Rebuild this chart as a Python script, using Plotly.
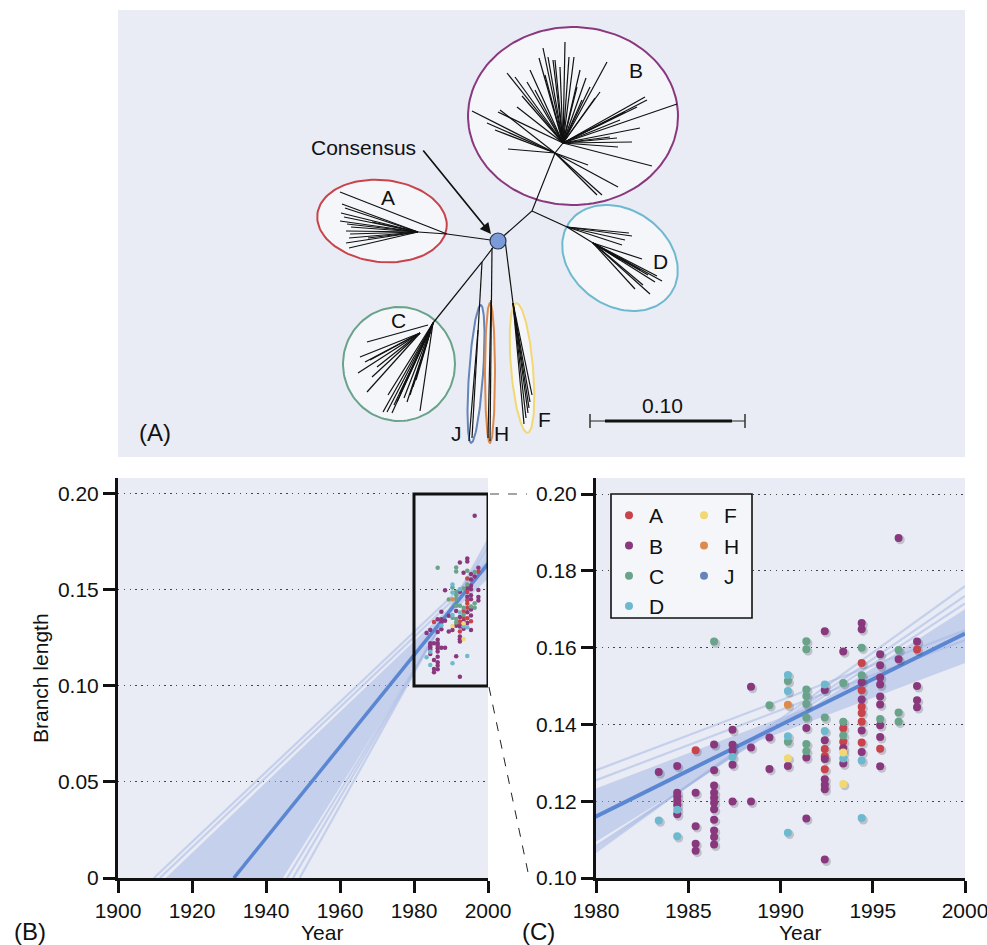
import numpy as np
import plotly.graph_objects as go

W, H = 987, 945
FONT = "Liberation Sans, Arial, Helvetica, sans-serif"
FS = 21

# ---------------- data: root-to-tip branch length vs sampling year ----------------
groups = ["A", "B", "C", "D", "F", "H", "J"]
group_colors = ["#c8434b", "#8a387e", "#69a38a", "#6dbad0", "#f1d872", "#de8a4c", "#6584b8"]

A_years = [1985.4, 1992.4, 1992.4, 1992.4, 1993.4, 1993.4, 1994.4, 1994.4, 1994.4,
           1994.4, 1994.4, 1994.4, 1995.4, 1997.4]
A_lengths = [0.1333, 0.1336, 0.1317, 0.1283, 0.1390, 0.1355, 0.1560, 0.1489, 0.1446,
             0.1430, 0.1407, 0.1353, 0.1337, 0.1595]

B_years = [1983.4,
           1984.4, 1984.4, 1984.4, 1984.4, 1984.4, 1984.4,
           1985.4, 1985.4, 1985.4, 1985.4,
           1986.4, 1986.4, 1986.4, 1986.4, 1986.4, 1986.4, 1986.4, 1986.4, 1986.4, 1986.4, 1986.4,
           1987.4, 1987.4, 1987.4, 1987.4, 1987.4,
           1988.4, 1988.4, 1988.4,
           1989.4, 1989.4,
           1990.4,
           1991.4, 1991.4, 1991.4,
           1992.4, 1992.4, 1992.4, 1992.4, 1992.4, 1992.4, 1992.4, 1992.4,
           1993.4, 1993.4, 1993.4,
           1994.4, 1994.4, 1994.4, 1994.4, 1994.4, 1994.4,
           1995.4, 1995.4, 1995.4, 1995.4, 1995.4, 1995.4, 1995.4, 1995.4, 1995.4,
           1996.4, 1996.4,
           1997.4, 1997.4, 1997.4, 1997.4]
B_lengths = [0.1276,
             0.1292, 0.1222, 0.1212, 0.1201, 0.1190, 0.1166,
             0.1222, 0.1135, 0.1089, 0.1071,
             0.1348, 0.1281, 0.1241, 0.1222, 0.1209, 0.1196, 0.1179, 0.1152, 0.1124, 0.1107, 0.1087,
             0.1386, 0.1347, 0.1332, 0.1295, 0.1199,
             0.1498, 0.1340, 0.1199,
             0.1366, 0.1284,
             0.1292,
             0.1391, 0.1314, 0.1155,
             0.1643, 0.1490, 0.1359, 0.1310, 0.1257, 0.1243, 0.1231, 0.1048,
             0.1590, 0.1338, 0.1298,
             0.1664, 0.1648, 0.1510, 0.1465, 0.1384, 0.1328,
             0.1583, 0.1554, 0.1522, 0.1504, 0.1473, 0.1452, 0.1398, 0.1367, 0.1291,
             0.1886, 0.1570,
             0.1616, 0.1500, 0.1463, 0.1445]

C_years = [1986.4, 1989.4, 1990.4, 1990.4,
           1991.4, 1991.4, 1991.4, 1991.4, 1991.4, 1991.4, 1991.4, 1991.4,
           1992.4, 1993.4, 1993.4, 1993.4, 1994.4, 1994.4, 1995.4, 1996.4, 1996.4, 1996.4]
C_lengths = [0.1616, 0.1450, 0.1513, 0.1355,
             0.1617, 0.1596, 0.1491, 0.1474, 0.1453, 0.1418, 0.1349, 0.1330,
             0.1418, 0.1508, 0.1407, 0.1371, 0.1600, 0.1528, 0.1414, 0.1594, 0.1431, 0.1407]

D_years = [1983.4, 1984.4, 1984.4, 1987.4, 1990.4, 1990.4, 1990.4, 1990.4,
           1992.4, 1992.4, 1993.4, 1994.4, 1994.4]
D_lengths = [0.1150, 0.1178, 0.1109, 0.1315, 0.1529, 0.1487, 0.1369, 0.1118,
             0.1504, 0.1383, 0.1311, 0.1306, 0.1156]

F_years = [1990.4, 1993.4, 1993.4]
F_lengths = [0.1312, 0.1327, 0.1245]
H_years = [1990.4]
H_lengths = [0.1451]
J_years = [None]      # no J sample visible in the plotted window
J_lengths = [None]

group_years = [A_years, B_years, C_years, D_years, F_years, H_years, J_years]
group_lengths = [A_lengths, B_lengths, C_lengths, D_lengths, F_lengths, H_lengths, J_lengths]

# regression (best fit): root year where branch length = 0, and value at 2000
fit_root_year = 1931.3
fit_end_value = 0.1637
# posterior sample lines: root year and value at 2000
fan_root_years = [1909.7, 1911.3, 1912.9, 1914.0, 1916.0, 1944.6, 1945.7, 1947.3, 1949.1]
fan_end_values = [0.1645, 0.1620, 0.1600, 0.1560, 0.1570, 0.1700, 0.1715, 0.1735, 0.1760]
fan_core = [2, 3, 4, 5]          # lines forming the dense band
fan_edges = [0, 1, 6, 7, 8]      # individual outer lines

# tick labels
B_xticks = [1900, 1920, 1940, 1960, 1980, 2000]
B_yticks = [0, 0.05, 0.10, 0.15, 0.20]
B_yticktext = ["0", "0.05", "0.10", "0.15", "0.20"]
C_xticks = [1980, 1985, 1990, 1995, 2000]
C_yticks = [0.10, 0.12, 0.14, 0.16, 0.18, 0.20]
C_yticktext = ["0.10", "0.12", "0.14", "0.16", "0.18", "0.20"]

# ---------------- tree (panel A), in panel pixel coordinates ----------------
consensus_xy = (498, 241)
tree_stems = {
    "A": [(498, 241), (447, 234), (418, 232)],
    "B": [(498, 241), (532, 211), (555, 153), (563, 143)],
    "D": [(532, 211), (567, 227), (593, 243)],
    "C": [(498, 241), (482, 262), (433, 323)],
    "J": [(482, 262), (472, 438)],
    "H": [(492, 248), (490, 441)],
    "F": [(505, 240), (513, 303)],
}
tree_fans = [
    ((418, 232), [(342, 204), (345, 208), (341, 213), (344, 217), (340, 221), (347, 224), (351, 227),
                  (346, 231), (350, 234), (349, 238), (346, 243), (349, 248), (368, 238), (372, 222)]),
    ((447, 234), [(340, 192)]),
    ((563, 143), [(543, 48), (539, 58), (548, 57), (553, 60), (555, 60), (565, 42), (569, 57), (574, 57),
                  (607, 62), (590, 87), (595, 98), (645, 97), (647, 100), (677, 104), (632, 142),
                  (617, 138), (618, 147), (652, 166), (507, 73), (515, 77), (527, 82), (535, 90),
                  (498, 112), (517, 107), (560, 67), (577, 87), (582, 100), (620, 120), (637, 107),
                  (610, 137), (580, 70), (586, 78), (600, 92), (625, 112), (640, 128), (530, 70),
                  (522, 96), (545, 75)]),
    ((555, 153), [(472, 111), (495, 130), (508, 149), (618, 187), (602, 195), (597, 195), (588, 165),
                  (487, 123), (500, 110)]),
    ((567, 227), [(632, 236), (625, 240), (622, 245), (629, 233)]),
    ((593, 243), [(642, 259), (662, 281), (655, 282), (650, 294), (635, 289), (643, 285), (620, 260),
                  (648, 275), (640, 270), (657, 276)]),
    ((433, 323), [(383, 412), (387, 412), (392, 413), (388, 395), (397, 402), (407, 402), (420, 411),
                  (413, 387), (400, 393), (404, 398), (410, 395), (416, 380), (394, 405)]),
    ((420, 333), [(360, 357), (365, 362), (358, 373), (372, 377), (367, 392), (377, 367), (370, 360)]),
    ((428, 325), [(367, 342)]),
    ((478, 330), [(469, 441)]),
    ((491, 300), [(488, 438)]),
    ((513, 303), [(530, 402), (528, 413), (524, 424), (532, 395), (526, 418), (529, 408)]),
]
# clade ellipses: name, cx, cy, rx, ry, rotation(deg), colour
clade_ellipses = [
    ("A", 382, 221, 65, 41, 6, "#c8434b"),
    ("B", 573, 116, 105, 89, 0, "#8a387e"),
    ("C", 399, 364, 56, 57, 0, "#69a38a"),
    ("D", 620, 258, 62, 48, 35, "#6dbad0"),
    ("J", 476, 374, 7, 69, 4, "#6584b8"),
    ("H", 490, 373, 5, 70, 0, "#de8a4c"),
    ("F", 522, 368, 11, 65, -5, "#f1d872"),
]
clade_labels = [("A", 388, 197), ("B", 636, 70), ("C", 398, 320), ("D", 660, 261),
                ("F", 544, 419), ("H", 501, 433), ("J", 456, 433)]

# ---------------- helpers ----------------
def px(x):
    return x / W


def py(y):
    return 1 - y / H


def ellipse(cx, cy, rx, ry, ang):
    t = np.linspace(0, 2 * np.pi, 120)
    a = np.deg2rad(ang)
    xs = cx + rx * np.cos(t) * np.cos(a) - ry * np.sin(t) * np.sin(a)
    ys = cy + rx * np.cos(t) * np.sin(a) + ry * np.sin(t) * np.cos(a)
    return xs, ys


def fan_line(root, endv):
    return [root, 2000], [0, endv]


fig = go.Figure()

# ---------------- panel A ----------------
for name, cx, cy, rx, ry, ang, col in clade_ellipses:
    xs, ys = ellipse(cx, cy, rx, ry, ang)
    fig.add_trace(go.Scatter(x=xs, y=ys, mode="lines", fill="toself", fillcolor="#f5f6fa",
                             line=dict(color=col, width=2), xaxis="x3", yaxis="y3",
                             showlegend=False, hoverinfo="skip"))

tx, ty = [], []
for pts in tree_stems.values():
    for p in pts:
        tx.append(p[0]); ty.append(p[1])
    tx.append(None); ty.append(None)
for node, tips in tree_fans:
    for tip in tips:
        tx += [node[0], tip[0], None]
        ty += [node[1], tip[1], None]
fig.add_trace(go.Scatter(x=tx, y=ty, mode="lines", line=dict(color="#111", width=1.2),
                         xaxis="x3", yaxis="y3", showlegend=False, hoverinfo="skip"))

# ---------------- panels B and C: fan ----------------
band_rgba = "rgba(161,180,228,0.5)"
for axx, axy in [("x", "y"), ("x2", "y2")]:
    roots = [fan_root_years[i] for i in fan_core]
    ends = [fan_end_values[i] for i in fan_core]
    xg = np.linspace(min(roots), 2000, 400)
    vals = np.array([np.clip(e * (xg - r) / (2000 - r), 0, None) for r, e in zip(roots, ends)])
    up = vals.max(axis=0)
    lo = vals.min(axis=0)
    fig.add_trace(go.Scatter(x=np.concatenate([xg, xg[::-1]]), y=np.concatenate([up, lo[::-1]]),
                             mode="lines", fill="toself", fillcolor=band_rgba,
                             line=dict(width=0, color=band_rgba), xaxis=axx, yaxis=axy,
                             showlegend=False, hoverinfo="skip"))
    for i in fan_edges:
        lx, ly = fan_line(fan_root_years[i], fan_end_values[i])
        fig.add_trace(go.Scatter(x=lx, y=ly, mode="lines", line=dict(color=band_rgba, width=2.2),
                                 xaxis=axx, yaxis=axy, showlegend=False, hoverinfo="skip"))
    lx, ly = fan_line(fit_root_year, fit_end_value)
    fig.add_trace(go.Scatter(x=lx, y=ly, mode="lines",
                             line=dict(color="#5b87d2", width=3.5 if axx == "x" else 4),
                             xaxis=axx, yaxis=axy, showlegend=False, hoverinfo="skip"))

# ---------------- points ----------------
all_x = np.array([v for ys in group_years for v in ys if v is not None], dtype=float)
all_y = np.array([v for ls in group_lengths for v in ls if v is not None], dtype=float)
fig.add_trace(go.Scatter(x=all_x + 0.09, y=all_y - 0.0005, mode="markers",
                         marker=dict(size=9, color="rgba(40,40,60,0.22)"),
                         xaxis="x2", yaxis="y2", showlegend=False, hoverinfo="skip"))

for g, col, xs, ys in zip(groups, group_colors, group_years, group_lengths):
    fig.add_trace(go.Scatter(x=xs, y=ys, mode="markers", marker=dict(size=4.5, color=col),
                             xaxis="x", yaxis="y", showlegend=False))
for g, col, xs, ys in zip(groups, group_colors, group_years, group_lengths):
    fig.add_trace(go.Scatter(x=xs, y=ys, mode="markers", name=g, marker=dict(size=8, color=col),
                             xaxis="x2", yaxis="y2", showlegend=True,
                             legend="legend" if g in ("A", "B", "C", "D") else "legend2"))

# ---------------- layout ----------------
tickfont = dict(family=FONT, size=FS, color="#111")
common_x = dict(showline=True, linewidth=3, linecolor="#111", ticks="outside", ticklen=12,
                tickwidth=3, tickcolor="#111", showgrid=False, zeroline=False, tickfont=tickfont,
                automargin=False, ticklabeloverflow="allow")
common_y = dict(showline=True, linewidth=3, linecolor="#111", ticks="outside", ticklen=12,
                tickwidth=3, tickcolor="#111", showgrid=True, gridcolor="#444", gridwidth=1.3,
                griddash="1.3px,4.5px", zeroline=False, tickfont=tickfont, automargin=False,
                ticklabeloverflow="allow")

ydom = [py(878), py(478)]
fig.update_layout(
    width=W, height=H, autosize=False,
    margin=dict(l=0, r=0, t=0, b=0, pad=0, autoexpand=False),
    paper_bgcolor="white", plot_bgcolor="#e9ecf4",
    font=dict(family=FONT, size=FS, color="#111"),
    xaxis=dict(domain=[px(118), px(488)], range=[1900, 2000], tickvals=B_xticks,
               anchor="y", **common_x),
    yaxis=dict(domain=ydom, range=[0, 0.2083], tickvals=B_yticks, ticktext=B_yticktext,
               anchor="x", **common_y),
    xaxis2=dict(domain=[px(596), px(965)], range=[1980, 2000], tickvals=C_xticks,
                anchor="y2", **common_x),
    yaxis2=dict(domain=ydom, range=[0.10, 0.2042], tickvals=C_yticks, ticktext=C_yticktext,
                anchor="x2", **common_y),
    xaxis3=dict(domain=[px(118), px(965)], range=[118, 965], visible=False, anchor="y3"),
    yaxis3=dict(domain=[py(457), py(10)], range=[457, 10], visible=False, anchor="x3"),
    legend=dict(x=px(609), y=py(495), xanchor="left", yanchor="top", bgcolor="rgba(0,0,0,0)",
                font=dict(family=FONT, size=FS, color="#111"), borderwidth=0),
    legend2=dict(x=px(684), y=py(495), xanchor="left", yanchor="top", bgcolor="rgba(0,0,0,0)",
                 font=dict(family=FONT, size=FS, color="#111"), borderwidth=0),
)

shapes = [
    dict(type="rect", xref="paper", yref="paper", x0=px(611), x1=px(752), y0=py(618), y1=py(494),
         fillcolor="#f5f6fa", line=dict(color="#111", width=1.6), layer="above"),
    dict(type="rect", xref="x", yref="y", x0=1980, x1=2000, y0=0.10, y1=0.20,
         line=dict(color="#111", width=3), layer="above"),
    dict(type="line", xref="paper", yref="paper", x0=px(490), x1=px(527), y0=py(494), y1=py(494),
         line=dict(color="#888", width=1.5, dash="dash")),
    dict(type="line", xref="paper", yref="paper", x0=px(489), x1=px(529), y0=py(687), y1=py(877),
         line=dict(color="#222", width=1, dash="dash")),
    dict(type="circle", xref="x3", yref="y3", x0=consensus_xy[0] - 8, x1=consensus_xy[0] + 8,
         y0=consensus_xy[1] - 8, y1=consensus_xy[1] + 8, fillcolor="#7b9bd8",
         line=dict(color="#2a3550", width=1.2), layer="above"),
    dict(type="line", xref="x3", yref="y3", x0=590, x1=745, y0=421, y1=421,
         line=dict(color="#666", width=1.5)),
    dict(type="line", xref="x3", yref="y3", x0=605, x1=732, y0=421, y1=421,
         line=dict(color="#111", width=3)),
    dict(type="line", xref="x3", yref="y3", x0=590, x1=590, y0=414, y1=428,
         line=dict(color="#333", width=1.5)),
    dict(type="line", xref="x3", yref="y3", x0=745, x1=745, y0=414, y1=428,
         line=dict(color="#333", width=1.5)),
]
fig.update_layout(shapes=shapes)

def label(text, x, y, ref="paper", size=FS, angle=0):
    if ref == "paper":
        return dict(text=text, x=px(x), y=py(y), xref="paper", yref="paper", showarrow=False,
                    xanchor="center", yanchor="middle", textangle=angle,
                    font=dict(family=FONT, size=size, color="#111"))
    return dict(text=text, x=x, y=y, xref="x3", yref="y3", showarrow=False,
                xanchor="center", yanchor="middle", textangle=angle,
                font=dict(family=FONT, size=size, color="#111"))


ann = [label(t, x, y, ref="x3") for t, x, y in clade_labels]
ann += [
    label("Consensus", 363, 147, ref="x3"),
    dict(text="", x=491, y=234, xref="x3", yref="y3", ax=422, ay=149, axref="x3", ayref="y3",
         showarrow=True, arrowhead=2, arrowsize=1.3, arrowwidth=1.7, arrowcolor="#111"),
    label("0.10", 662, 405, ref="x3"),
    label("(A)", 155, 432, ref="x3", size=24),
    label("(B)", 30, 931, size=24),
    label("(C)", 538, 931, size=24),
    label("Year", 322, 932),
    label("Year", 800, 932),
    label("Branch length", 40, 678, angle=-90),
]
fig.update_layout(annotations=ann)

fig.write_html("out.html")
